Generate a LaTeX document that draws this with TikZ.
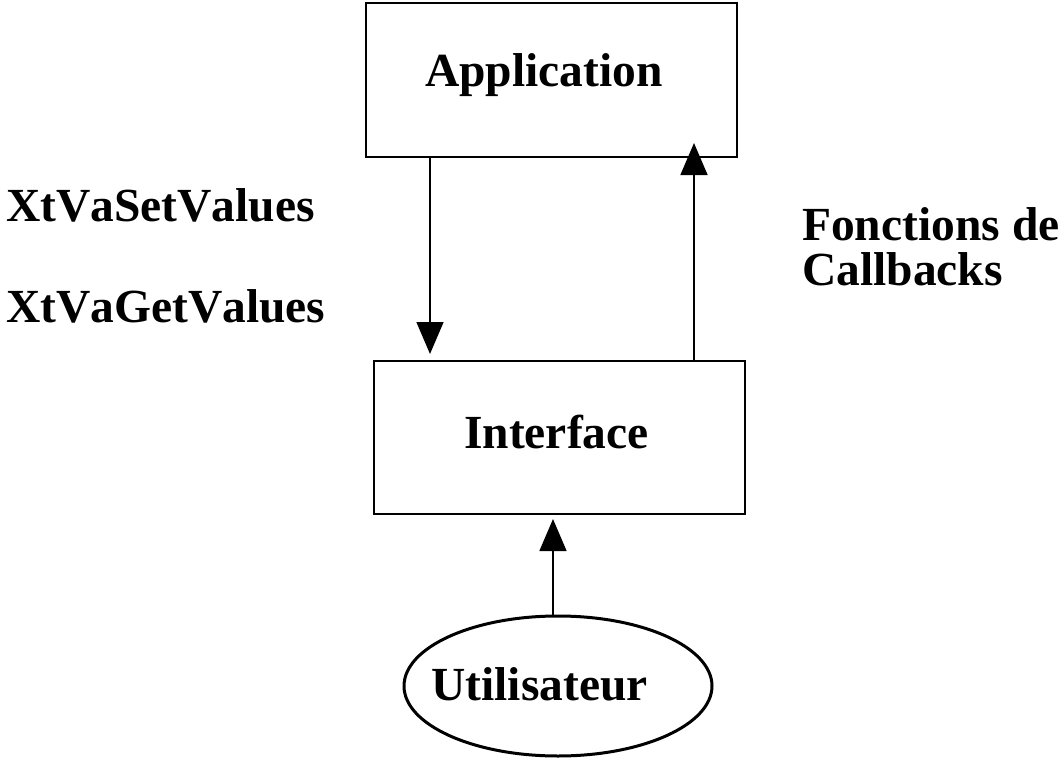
\documentclass[tikz,border=0pt]{standalone}
\usepackage{fontspec}
\setmainfont[Kerning=Off]{Liberation Serif}
\usetikzlibrary{arrows.meta,shapes.geometric}
\tikzset{
  box/.style={draw, line width=2pt, rectangle, inner sep=0pt},
  userell/.style={draw, line width=3pt, ellipse, inner sep=0pt},
  lbl/.style={font=\fontsize{47.5}{52}\selectfont\bfseries, inner sep=0pt},
  flow/.style={line width=1.6pt, -{Triangle[length=32pt,width=27pt]}},
}
\begin{document}
\begin{tikzpicture}[x=1pt,y=-1pt]
  \useasboundingbox (0,0) rectangle (1061,760);

  % boxes and the user ellipse
  \node[box, minimum width=371pt, minimum height=154pt] (app) at (551.5,80) {};
  \node[box, minimum width=371pt, minimum height=153pt] (ifc) at (559.5,437.5) {};
  \node[userell, minimum width=308pt, minimum height=140pt] (usr) at (558,686) {};

  % texts inside the shapes
  \node[lbl, anchor=base] (appt) at (544,87) {Application};
  \node[lbl, anchor=base] (ifct) at (556.5,448) {Interface};
  \node[lbl, anchor=base] (usrt) at (539.5,700) {Utilisateur};

  % side labels
  \node[lbl, anchor=base west] (setv) at (6,221) {XtVaSetValues};
  \node[lbl, anchor=base west] (getv) at (6,322) {XtVaGetValues};
  \node[lbl, anchor=base west] (fct) at (802,240) {Fonctions de};
  \node[lbl, anchor=base west] (cbk) at (802,285) {Callbacks};

  % connector columns
  \coordinate (cdown) at (430,0);
  \coordinate (cup) at (694,0);
  \coordinate (cusr) at (553,0);

  \draw[flow, shorten >=6pt] (app.south -| cdown) -- (ifc.north -| cdown);
  \draw[flow, shorten >=-15pt] (ifc.north -| cup) -- (app.south -| cup);
  \draw[flow, shorten >=4pt] (usr.north -| cusr) -- (ifc.south -| cusr);
\end{tikzpicture}
\end{document}
